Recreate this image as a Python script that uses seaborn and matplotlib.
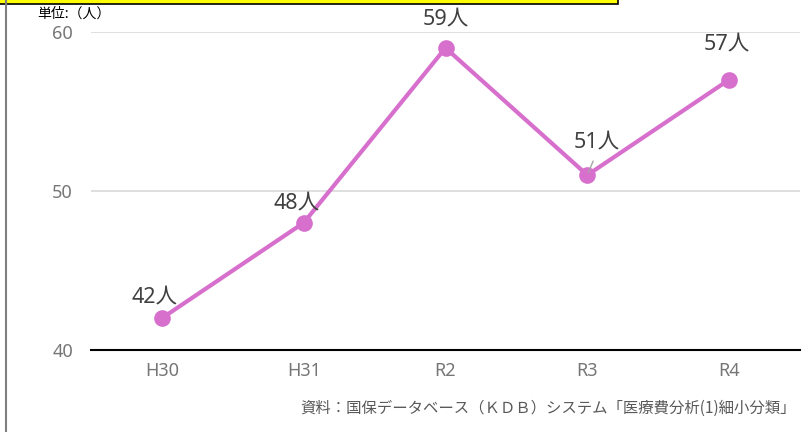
import matplotlib
matplotlib.use("Agg")
import matplotlib.pyplot as plt
import seaborn as sns
import pandas as pd
from matplotlib.patches import Rectangle
from matplotlib.lines import Line2D

years = ["H30", "H31", "R2", "R3", "R4"]
values = [42, 48, 59, 51, 57]
yticks = [40, 50, 60]
unit_label = "単位:（人）"
source_note = "資料：国保データベース（ＫＤＢ）システム「医療費分析(1)細小分類」"

sns.set_theme(style="white")
plt.rcParams['font.family'] = ['Noto Sans', 'Noto Sans CJK JP', 'DejaVu Sans']

df = pd.DataFrame({"year": years, "value": values})

fig = plt.figure(figsize=(8.09, 4.32), dpi=100)
ax = fig.add_axes([91/809, 1-350/432, (800-91)/809, (350-32)/432])

ax.set_ylim(40, 60)
ax.set_yticks(yticks)
ax.yaxis.grid(True, color="#D9D9D9", linewidth=1.2)
ax.set_axisbelow(True)

sns.lineplot(data=df, x="year", y="value", ax=ax, color="#D76FCD",
             linewidth=3, marker="o", markersize=12, markeredgewidth=0,
             sort=False, clip_on=False, zorder=3)
ax.set_xlim(-0.5, len(years) - 0.5)

offsets = [(-5, 15), (-5, 14.5), (0, 21), (6.5, 24), (-1.5, 26)]
for i, (v, off) in enumerate(zip(values, offsets)):
    ax.annotate(f"{v}人", (i, v), xytext=off, textcoords="offset points",
                ha="center", va="center", fontsize=15.5, color="#404040",
                annotation_clip=False, zorder=5)

# leader line for R3
ax.annotate("", xy=(3, 51), xytext=(5, 12), textcoords="offset points",
            xycoords="data",
            arrowprops=dict(arrowstyle="-", color="#A6A6A6", lw=1))

for s in ["top", "right", "left"]:
    ax.spines[s].set_visible(False)
ax.spines["bottom"].set_color("black")
ax.spines["bottom"].set_linewidth(1.5)
ax.set_xlabel("")
ax.set_ylabel("")
ax.tick_params(axis="y", length=0, pad=13, labelsize=13, labelcolor="#767676")
ax.tick_params(axis="x", length=0, pad=9, labelsize=13, labelcolor="#767676")

fig.text(37/809, 1-14/432, unit_label, fontsize=10, color="black",
         ha="left", va="center", family=['Noto Sans CJK JP', 'DejaVu Sans'])
fig.text(796/809, 1-408/432, source_note, fontsize=11.1, color="#595959",
         ha="right", va="center", family=['Noto Sans CJK JP', 'DejaVu Sans'])

# decorations: yellow box at top and left border
fig.patches.append(Rectangle((-0.01, 1-4/432), 618/809 + 0.01, 0.1,
                             transform=fig.transFigure, facecolor="#FFFF00",
                             edgecolor="black", linewidth=1.2))
fig.lines.append(Line2D([6/809, 6/809], [0, 1], transform=fig.transFigure,
                        color="#7F7F7F", linewidth=1.5))

fig.savefig("out.png", dpi=100)
